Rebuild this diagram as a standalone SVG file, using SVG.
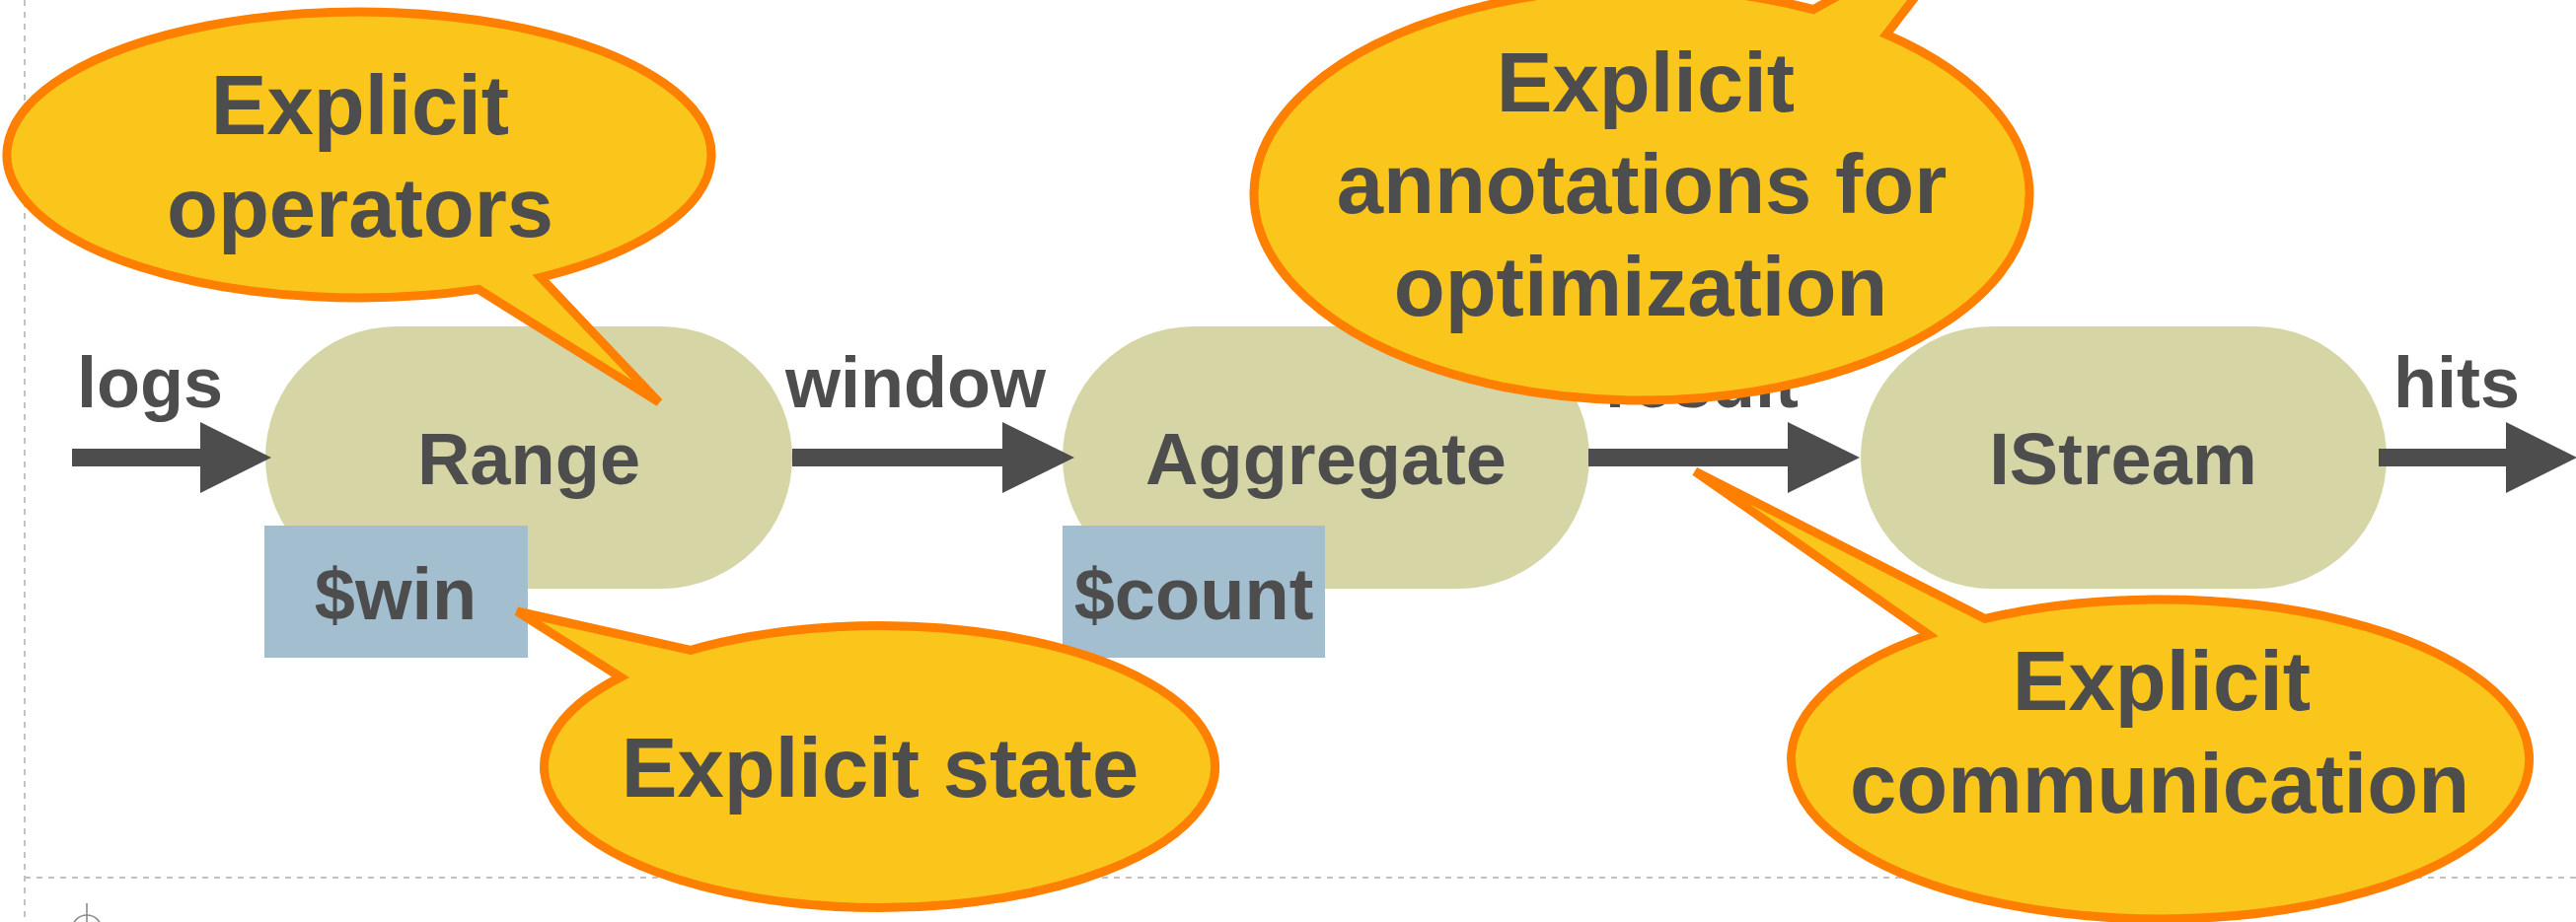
<svg xmlns="http://www.w3.org/2000/svg" width="2611" height="935" viewBox="0 0 2611 935">
  <style>
    .guide { fill: none; stroke: #c2c2c2; stroke-width: 2; stroke-dasharray: 6 6; }
    .mark { fill: none; stroke: #8c8c8c; stroke-width: 1.6; }
    .op { fill: #d5d5a6; }
    .state { fill: #a3bfcf; }
    .arrow { fill: #4d4d4d; }
    .txt { font-family: "Liberation Sans", Arial, Helvetica, sans-serif; font-weight: bold; fill: #4d4d4d; text-anchor: middle; }
    .lbl { font-size: 72px; }
    .opt { font-size: 74px; }
    .call { font-size: 85px; }
    .bubble { fill: #fbc61b; stroke: #ff7f00; stroke-width: 9; stroke-linejoin: miter; }
  </style>

  <!-- slide guides -->
  <g id="guides">
    <line class="guide" x1="25" y1="0" x2="25" y2="935"/>
    <line class="guide" x1="25" y1="890" x2="2611" y2="890"/>
    <line class="mark" x1="88" y1="916" x2="88" y2="935"/>
    <circle class="mark" cx="88" cy="943" r="15"/>
  </g>

  <!-- operators -->
  <g id="node-range">
    <rect class="op" x="269" y="331" width="534" height="266" rx="133" ry="133"/>
    <text class="txt opt" x="536" y="491">Range</text>
  </g>
  <g id="node-aggregate">
    <rect class="op" x="1077" y="331" width="534" height="266" rx="133" ry="133"/>
    <text class="txt opt" x="1344" y="491">Aggregate</text>
  </g>
  <g id="node-istream">
    <rect class="op" x="1886" y="331" width="533" height="266" rx="133" ry="133"/>
    <text class="txt opt" x="2152" y="491">IStream</text>
  </g>

  <!-- streams between operators -->
  <g id="connectors">
    <path class="arrow" d="M73,455 H203 V428 L275,464 L203,500 V473 H73 Z"/>
    <path class="arrow" d="M803,455 H1016 V428 L1089,464 L1016,500 V473 H803 Z"/>
    <path class="arrow" d="M1610,455 H1812 V428 L1885,464 L1812,500 V473 H1610 Z"/>
    <path class="arrow" d="M2411,455 H2540 V428 L2612,464 L2540,500 V473 H2411 Z"/>
    <text class="txt lbl" x="152" y="413">logs</text>
    <text class="txt lbl" x="928" y="413">window</text>
    <text class="txt lbl" x="1725" y="413">result</text>
    <text class="txt lbl" x="2490" y="413">hits</text>
  </g>

  <!-- operator state -->
  <g id="state-win">
    <rect class="state" x="268" y="533" width="267" height="134"/>
    <text class="txt opt" x="401" y="628">$win</text>
  </g>
  <g id="state-count">
    <rect class="state" x="1077" y="533" width="266" height="134"/>
    <text class="txt opt" x="1210" y="628">$count</text>
  </g>

  <!-- callouts: tail base points lie exactly on each ellipse -->
  <g id="callout-operators">
    <path class="bubble" d="M485,293.42 L668,408 L548,281.26 A357 145 0 1 0 485,293.42 Z"/>
    <text class="txt call" x="365" y="136">Explicit</text>
    <text class="txt call" x="365" y="240">operators</text>
  </g>
  <g id="callout-state">
    <path class="bubble" d="M629,686.62 L524,620 L700,659.34 A340 143 0 1 1 629,686.62 Z"/>
    <text class="txt call" x="892" y="808">Explicit state</text>
  </g>
  <g id="callout-annotations">
    <path class="bubble" d="M1838,9.60 L2000,-80 L1912,34.87 A393 209 0 1 1 1838,9.60 Z"/>
    <text class="txt call" x="1668" y="113">Explicit</text>
    <text class="txt call" x="1664" y="216">annotations for</text>
    <text class="txt call" x="1663" y="320">optimization</text>
  </g>
  <g id="callout-communication">
    <path class="bubble" d="M1955,643.8 L1718,478 L2012,627.4 A374 162 0 1 1 1955,643.8 Z"/>
    <text class="txt call" x="2191" y="720">Explicit</text>
    <text class="txt call" x="2189" y="824">communication</text>
  </g>
</svg>
